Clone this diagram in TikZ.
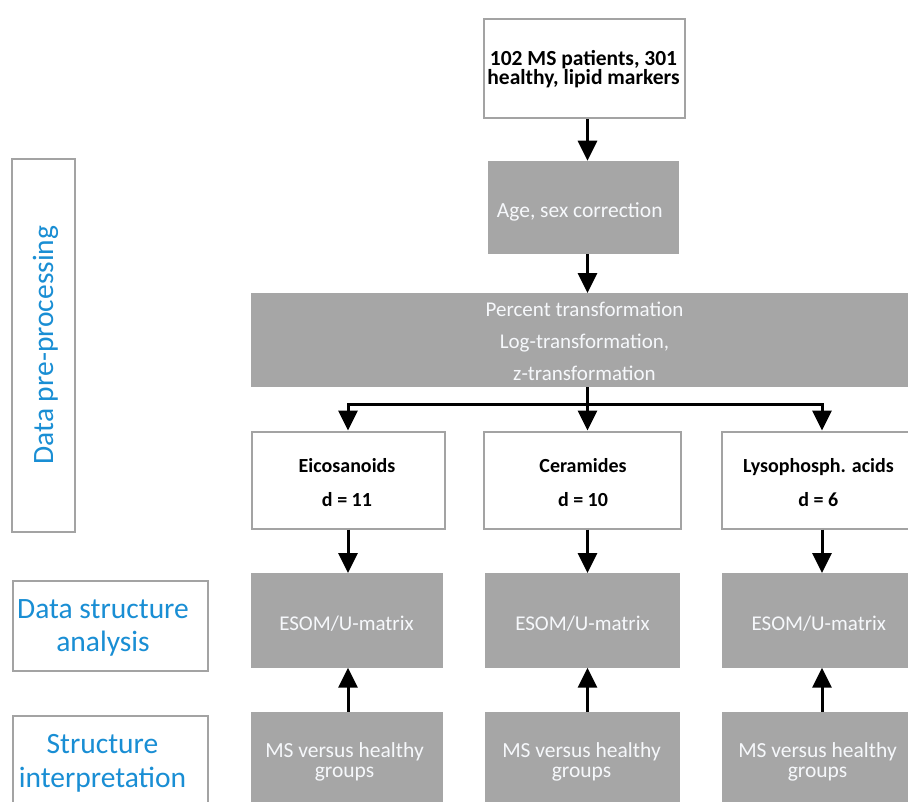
\documentclass[tikz,border=0pt]{standalone}
\usepackage{fontspec}
\setmainfont{Carlito}
\usetikzlibrary{arrows.meta}
\definecolor{boxfill}{HTML}{A6A6A6}
\definecolor{edgecol}{HTML}{A3A3A3}
\definecolor{lblue}{RGB}{25,142,212}
\definecolor{gtxt}{HTML}{F6F8FB}
\begin{document}
\begin{tikzpicture}[x=1pt,y=-1pt,
  wbox/.style={draw=edgecol, line width=2pt, fill=white, inner sep=0pt, anchor=north west},
  gbox/.style={fill=boxfill, inner sep=0pt, anchor=north west},
  lbox/.style={draw=edgecol, line width=2pt, fill=white, inner sep=0pt, anchor=north west},
  btxt/.style={font=\fontsize{20}{33.3}\selectfont\bfseries, align=center, inner sep=0pt},
  gtext/.style={text=gtxt, align=center, inner sep=0pt},
  ltxt/.style={text=lblue, align=center, inner sep=0pt},
  conn/.style={line width=3pt},
  arr/.style={line width=3pt, -{Triangle[width=19pt,length=20pt]}}
]
\useasboundingbox (0,0) rectangle (908,801);
\clip (0,0) rectangle (908,801);

% boxes
\node[wbox, minimum width=201pt, minimum height=99pt] (top) at (483,18) {};
\node[gbox, minimum width=191.5pt, minimum height=93.3pt] (age) at (487.5,160.7) {};
\node[gbox, minimum width=665pt, minimum height=93.7pt] (perc) at (250.5,293) {};
\node[wbox, minimum width=193.5pt, minimum height=97pt] (eico) at (250.5,430.5) {};
\node[wbox, minimum width=197.5pt, minimum height=97pt] (ceram) at (482.5,430.5) {};
\node[wbox, minimum width=200pt, minimum height=97pt] (lyso) at (720.5,430.5) {};
\node[gbox, minimum width=192pt, minimum height=94.3pt] (esom1) at (250.5,573) {};
\node[gbox, minimum width=194.3pt, minimum height=94.3pt] (esom2) at (485,573) {};
\node[gbox, minimum width=200pt, minimum height=94.3pt] (esom3) at (722,573) {};
\node[gbox, minimum width=192pt, minimum height=100pt] (ms1) at (250.5,711.7) {};
\node[gbox, minimum width=194.3pt, minimum height=100pt] (ms2) at (485,711.7) {};
\node[gbox, minimum width=200pt, minimum height=100pt] (ms3) at (722,711.7) {};
\node[lbox, minimum width=63pt, minimum height=373pt] (L1) at (11,158) {};
\node[lbox, minimum width=195.3pt, minimum height=90pt] (L2) at (11.7,580) {};
\node[lbox, minimum width=195.3pt, minimum height=100pt] (L3) at (11.7,715) {};

% texts
\node[btxt, font=\fontsize{21.5}{18.3}\selectfont\bfseries] (toptxt) at (583.5,69.1) {102 MS patients, 301\\healthy, lipid markers};
\node[gtext, font=\fontsize{21.5}{26}\selectfont] (agetxt) at (579.7,211.8) {Age, sex correction};
\node[gtext, font=\fontsize{21}{32}\selectfont] (perctxt) at (584.5,341.5) {Percent transformation\\Log-transformation,\\z-transformation};
\node[btxt] (eicotxt) at (347,482.4) {Eicosanoids\\d = 11};
\node[btxt] (ceramtxt) at (583,482.4) {Ceramides\\d = 10};
\node[btxt] (lysotxt) at (818.4,482.4) {Lysophosph. acids\\d = 6};
\node[gtext, font=\fontsize{21}{26}\selectfont] (esom1txt) at (346.5,623.3) {ESOM/U-matrix};
\node[gtext, font=\fontsize{21}{26}\selectfont] (esom2txt) at (582.5,623.3) {ESOM/U-matrix};
\node[gtext, font=\fontsize{21}{26}\selectfont] (esom3txt) at (818.8,623.3) {ESOM/U-matrix};
\node[gtext, font=\fontsize{21.5}{20}\selectfont] (ms1txt) at (344.5,761.8) {MS versus healthy\\groups};
\node[gtext, font=\fontsize{21.5}{20}\selectfont] (ms2txt) at (581.5,761.8) {MS versus healthy\\groups};
\node[gtext, font=\fontsize{21.5}{20}\selectfont] (ms3txt) at (817.5,761.8) {MS versus healthy\\groups};
\node[ltxt, font=\fontsize{29.5}{33}\selectfont, rotate=90, anchor=base] (L1txt) at (53,345) {Data pre-processing};
\node[ltxt, font=\fontsize{29.5}{32.7}\selectfont] (L2txt) at (103,627.9) {Data structure\\analysis};
\node[ltxt, font=\fontsize{29.5}{33.4}\selectfont] (L3txt) at (102.5,763.2) {Structure\\interpretation};

% connectors
\coordinate (j1) at (348,404);
\coordinate (j2) at (587.5,404);
\coordinate (j3) at (822,404);
\draw[arr] (top.south -| j2) -- (age.north -| j2);
\draw[arr] (age.south -| j2) -- (perc.north -| j2);
\draw[conn] (perc.south -| j2) -- (j2);
\draw[conn, line cap=rect] (j1) -- (j3);
\draw[arr] (j1) -- (eico.north -| j1);
\draw[arr] (j2) -- (ceram.north -| j2);
\draw[arr] (j3) -- (lyso.north -| j3);
\draw[arr] (eico.south -| j1) -- (esom1.north -| j1);
\draw[arr] (ceram.south -| j2) -- (esom2.north -| j2);
\draw[arr] (lyso.south -| j3) -- (esom3.north -| j3);
\draw[arr] (ms1.north -| j1) -- (esom1.south -| j1);
\draw[arr] (ms2.north -| j2) -- (esom2.south -| j2);
\draw[arr] (ms3.north -| j3) -- (esom3.south -| j3);
\end{tikzpicture}
\end{document}
